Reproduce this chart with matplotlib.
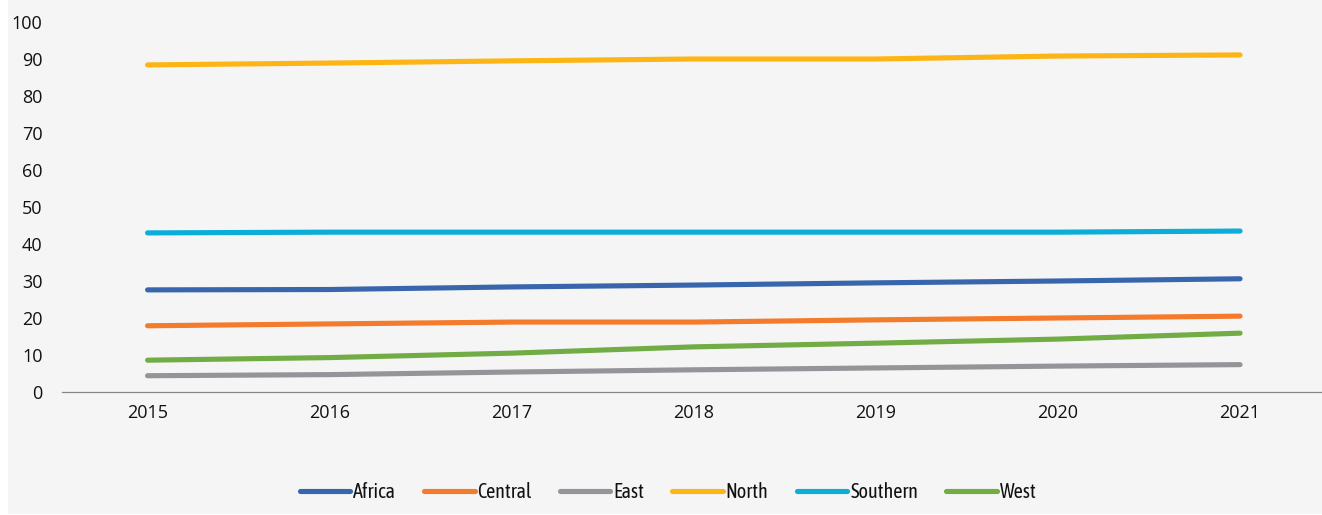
import matplotlib
matplotlib.use("Agg")
import matplotlib.pyplot as plt
from matplotlib.patches import Rectangle

# ---------------------------------------------------------------------
# Data
# ---------------------------------------------------------------------
years = [2015, 2016, 2017, 2018, 2019, 2020, 2021]
africa = [27.6, 27.7, 28.4, 28.9, 29.5, 30.0, 30.6]
central = [17.9, 18.4, 18.9, 18.9, 19.5, 20.0, 20.5]
east = [4.4, 4.7, 5.4, 6.0, 6.5, 7.0, 7.4]
north = [88.4, 88.9, 89.5, 90.0, 90.0, 90.8, 91.1]
southern = [43.0, 43.2, 43.2, 43.2, 43.2, 43.2, 43.5]
west = [8.6, 9.3, 10.5, 12.2, 13.2, 14.3, 15.9]

series = [
    ("Africa", africa, "#3866ad"),
    ("Central", central, "#f47a2c"),
    ("East", east, "#939598"),
    ("North", north, "#fdb515"),
    ("Southern", southern, "#0aaed8"),
    ("West", west, "#72ac45"),
]

W, H = 1322, 515
fig = plt.figure(figsize=(W / 100, H / 100), dpi=100, facecolor="white")

# light grey panel behind the chart
fig.patches.append(
    Rectangle((8 / W, 1 / H), 1 - 8 / W, 1 - 1 / H, transform=fig.transFigure,
              facecolor="#f5f5f5", edgecolor="none", zorder=-5)
)

ax = fig.add_axes([62 / W, (H - 392) / H, 1 - 62 / W, (392 - 22) / H])
ax.set_zorder(2)
ax.set_facecolor("none")

for name, vals, color in series:
    ax.plot(years, vals, color=color, lw=3.7, solid_capstyle="round", label=name)

ax.set_xlim(2014.53, 2021.45)
ax.set_ylim(0, 100)
ax.set_yticks(range(0, 101, 10))
ax.set_xticks(years)

for side in ["top", "right", "left"]:
    ax.spines[side].set_visible(False)
ax.spines["bottom"].set_color("#868686")
ax.spines["bottom"].set_linewidth(0.9)

ax.tick_params(axis="y", length=0, pad=14)
ax.tick_params(axis="x", length=0, pad=9)
for lab in ax.get_xticklabels() + ax.get_yticklabels():
    lab.set_fontfamily("Open Sans")
    lab.set_fontsize(13)
    lab.set_color("#111111")

leg = fig.legend(
    loc="center", bbox_to_anchor=(668 / W, (H - 492) / H), ncol=6,
    frameon=False, handlelength=2.5, handletextpad=0.15, columnspacing=1.4,
    prop={"family": ["Asap Condensed", "DejaVu Sans"], "size": 14.5},
)
for t in leg.get_texts():
    t.set_color("#111111")

fig.savefig("out.png", dpi=100, facecolor=fig.get_facecolor())
